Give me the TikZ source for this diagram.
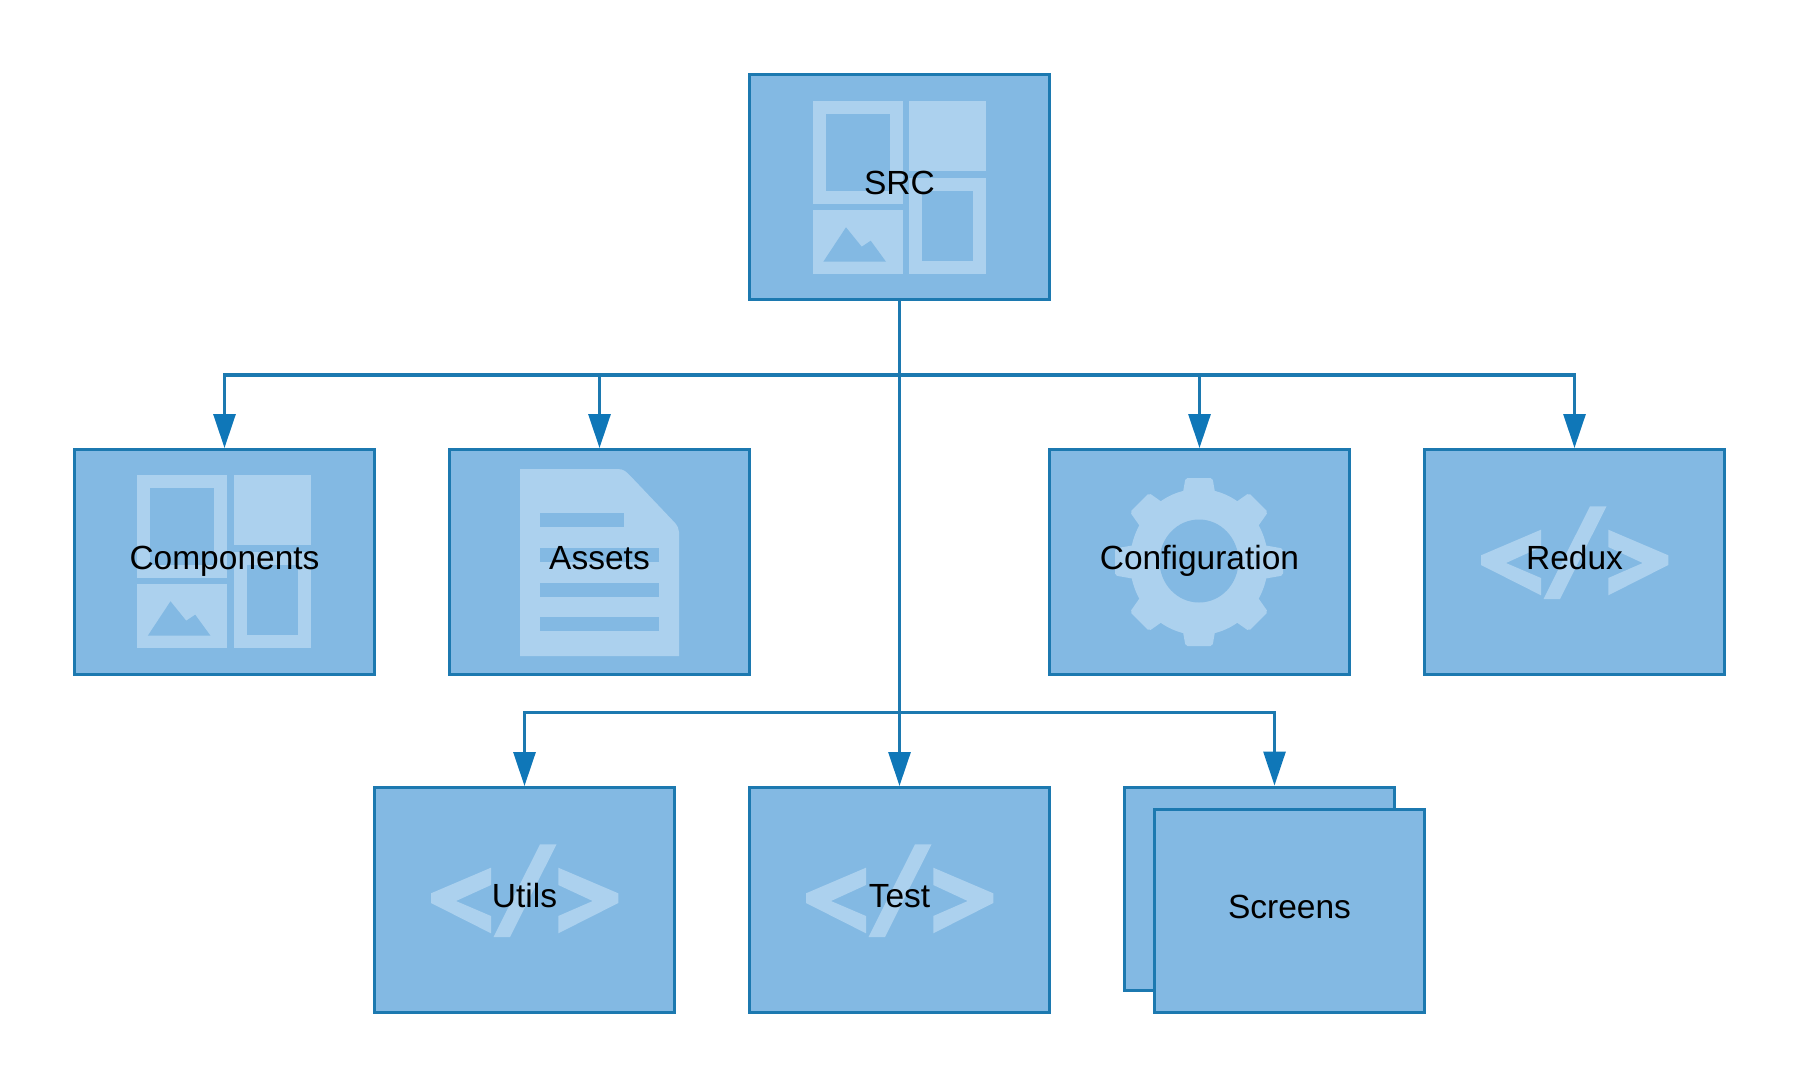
\documentclass[tikz,border=0pt]{standalone}
\usepackage{fontspec}
\setmainfont{Liberation Sans}
\usetikzlibrary{arrows.meta}
\definecolor{boxfill}{HTML}{83B9E3}
\definecolor{boxline}{HTML}{1C79B0}
\definecolor{tipfill}{HTML}{0F77B8}
\definecolor{iconfill}{HTML}{ACD1EE}
\tikzset{
  box/.style={draw=boxline,fill=boxfill,line width=3pt,rectangle,outer sep=0pt,inner sep=0pt,minimum width=300pt,minimum height=225pt},
  backbox/.style={box,minimum width=270pt,minimum height=203pt},
  frontbox/.style={box,minimum width=270pt,minimum height=203pt},
  lbl/.style={anchor=base,inner sep=0pt,outer sep=0pt,text=black,font=\fontsize{33.5}{40}\selectfont},
  conn/.style={draw=boxline,line width=3pt,line join=miter},
  busline/.style={conn,line width=4pt},
  arr/.style={conn,-{Triangle[length=34pt,width=22pt,color=tipfill]},shorten >=1.5pt},
  icon/.style={fill=iconfill,draw=none},
  hole/.style={fill=boxfill,draw=none}
}
\newcommand{\dashicon}[1]{\begin{scope}[shift={(#1)}]
  \fill[icon] (-87.3,-86.7) rectangle (2.7,15.7);
  \fill[hole] (-74.3,-74) rectangle (-10.3,3);
  \fill[icon] (9,-87.3) rectangle (86.3,-17.3);
  \fill[icon] (9,-10.3) rectangle (86.3,86.3);
  \fill[hole] (22,3) rectangle (73.3,73.3);
  \fill[icon] (-87.3,22) rectangle (2.7,86);
  \fill[hole] (-76.7,73.7) -- (-54,39.3) -- (-38.3,58.7) -- (-29.3,52.7) -- (-14,73.7) -- cycle;
\end{scope}}
\newcommand{\codeicon}[1]{\begin{scope}[shift={(#1)}]
  \fill[icon] (-33.5,-32.3) -- (-93.5,-6.7) -- (-93.5,3) -- (-33.5,33.3) -- (-33.5,16) -- (-68.5,1) -- (-33.5,-15) -- cycle;
  \fill[icon] (33.8,-32.3) -- (93.8,-6.7) -- (93.8,3) -- (33.8,33.3) -- (33.8,16) -- (68.2,1) -- (33.8,-15) -- cycle;
  \fill[icon] (15.5,-55.7) -- (32,-55.7) -- (-14.5,37) -- (-31,37) -- cycle;
\end{scope}}
\newcommand{\gearicon}[1]{\begin{scope}[shift={(#1)}]
  \fill[icon] (0,0) circle[x radius=69pt,y radius=73pt];
  \foreach \a in {0,45,...,315} {
    \fill[icon,rotate=\a,rounded corners=2pt] (-17,-64) -- (-13.5,-84) -- (13.5,-84) -- (17,-64) -- cycle;
  }
  \fill[hole] (0,-1) circle[x radius=39.5pt,y radius=41.5pt];
\end{scope}}
\newcommand{\docicon}[1]{\begin{scope}[shift={(#1)}]
  \fill[icon] (-79.5,-93) -- (18.5,-93) .. controls (24,-93) and (27,-90) .. (30,-87) -- (75.6,-39) .. controls (78,-36) and (79.5,-33) .. (79.5,-30) -- (79.5,94) -- (-79.5,94) -- cycle;
  \fill[hole] (-59.5,-48.7) rectangle (24.5,-35.3);
  \fill[hole] (-59.5,-14.3) rectangle (59.5,-0.3);
  \fill[hole] (-59.5,20.7) rectangle (59.5,34.7);
  \fill[hole] (-59.5,55) rectangle (59.5,69);
\end{scope}}
\begin{document}
\begin{tikzpicture}[x=1pt,y=-1pt]
\useasboundingbox[fill=white] (0,0) rectangle (1800,1088);
% boxes
\node[box] (src) at (899.5,187) {};
\node[box] (comp) at (224.5,562) {};
\node[box] (assets) at (599.5,562) {};
\node[box] (config) at (1199.5,562) {};
\node[box] (redux) at (1574.5,562) {};
\node[box] (utils) at (524.5,900) {};
\node[box] (test) at (899.5,900) {};
\node[backbox] (scrback) at (1259.5,888.5) {};
\node[frontbox] (scrfront) at (1289.5,910.75) {};
% icons
\dashicon{900,188}
\dashicon{224.5,562}
\docicon{599.5,562}
\gearicon{1199,562}
\codeicon{1574.5,562}
\codeicon{524.5,900}
\codeicon{899.5,900}
% labels
\node[lbl] (tsrc) at ([yshift=-7pt]src.center) {SRC};
\node[lbl] (tcomp) at ([yshift=-7pt]comp.center) {Components};
\node[lbl] (tassets) at ([yshift=-7pt]assets.center) {Assets};
\node[lbl] (tconfig) at ([yshift=-7pt]config.center) {Configuration};
\node[lbl] (tredux) at ([yshift=-7pt]redux.center) {Redux};
\node[lbl] (tutils) at ([yshift=-7pt]utils.center) {Utils};
\node[lbl] (ttest) at ([yshift=-7pt]test.center) {Test};
\node[lbl] (tscreens) at ([yshift=-7.5pt]scrfront.center) {Screens};
% connectors
\coordinate (busA) at (899.5,375);
\coordinate (busB) at (899.5,712);
\coordinate (scrtop) at (1274.5,787);
\draw[arr] (src.south) -- (test.north);
\draw[arr] (busA) -| (comp.north);
\draw[arr] (busA) -| (assets.north);
\draw[arr] (busA) -| (config.north);
\draw[arr] (busA) -| (redux.north);
\draw[busline] ([xshift=-1.5pt]comp.north |- busA) -- ([xshift=1.5pt]redux.north |- busA);
\draw[arr] (busB) -| (utils.north);
\draw[arr] (busB) -| (scrtop);
\end{tikzpicture}
\end{document}
